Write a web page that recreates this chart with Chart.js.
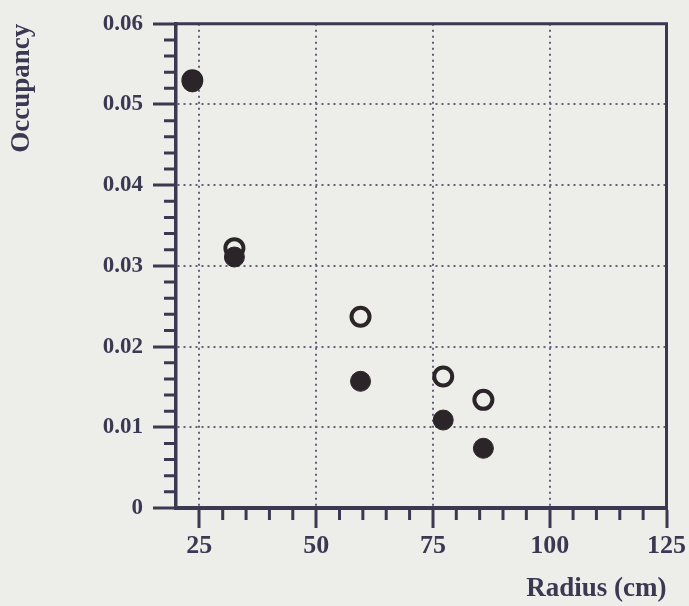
<!DOCTYPE html>
<html lang="en">
<head>
    <meta charset="UTF-8">
    <title>Occupancy vs Radius</title>
    <script src="https://cdn.jsdelivr.net/npm/chart.js"></script>
    <style>
        html, body { margin: 0; padding: 0; background: #ededea; }
        #wrap { width: 689px; height: 606px; }
    </style>
</head>
<body>
<div id="wrap">
    <canvas id="myChart"></canvas>
</div>

<script>
    // radius (cm) of each measurement
    var v_radius = [23.5, 32.5, 59.5, 77.2, 85.8];
    // filled circles
    var v_filled = [0.0528, 0.0311, 0.0157, 0.0109, 0.0074];
    // open circles
    var v_open = [0.0530, 0.0322, 0.0237, 0.0163, 0.0134];

    // axis ticks
    var v_xTicks = [25, 50, 75, 100, 125];
    var v_xLabels = ["25", "50", "75", "100", "125"];
    var v_yTicks = [0, 0.01, 0.02, 0.03, 0.04, 0.05, 0.06];
    var v_yLabels = ["0", "0.01", "0.02", "0.03", "0.04", "0.05", "0.06"];

    var v_ink = "#3b3852";
    var v_dot = "#2b2428";
    var v_bg = "#ededea";

    // minor ticks: every 5 cm on x, every 0.002 on y
    var v_xMinor = [];
    for (var i = 30; i < 125; i += 5) {
        if (i % 25 != 0) v_xMinor.push(i);
    }
    var v_yMinor = [];
    for (var k = 1; k < 30; k++) {
        if (k % 5 != 0) v_yMinor.push(k * 0.002);
    }

    function f_pts(p_ys) {
        return v_radius.map(function (r, i) { return {x: r, y: p_ys[i]}; });
    }

    // small ticks and the top / right edges of the frame
    const framePlugin = {
        id: "frame",
        beforeDatasetsDraw(chart) {
            const ctx = chart.ctx;
            const a = chart.chartArea;
            const sx = chart.scales.x, sy = chart.scales.y;
            ctx.save();
            ctx.strokeStyle = v_ink;
            ctx.lineWidth = 3;
            ctx.beginPath();
            v_xMinor.forEach(function (v) {
                const px = sx.getPixelForValue(v);
                ctx.moveTo(px, a.bottom);
                ctx.lineTo(px, a.bottom + 12);
            });
            v_yMinor.forEach(function (v) {
                const py = sy.getPixelForValue(v);
                ctx.moveTo(a.left, py);
                ctx.lineTo(a.left - 12, py);
            });
            ctx.stroke();
            ctx.beginPath();
            ctx.moveTo(a.left - 1, a.top);
            ctx.lineTo(a.right, a.top);
            ctx.lineTo(a.right, a.bottom + 1);
            ctx.stroke();
            ctx.restore();
        }
    };

    const ctx = document.getElementById("myChart").getContext("2d");
    const myChart = new Chart(ctx, {
        type: "scatter",
        data: {
            datasets: [
                {
                    label: "filled",
                    data: f_pts(v_filled),
                    pointRadius: 10,
                    pointHoverRadius: 10,
                    pointBackgroundColor: v_dot,
                    pointBorderColor: v_dot,
                    pointBorderWidth: 1
                },
                {
                    label: "open",
                    data: f_pts(v_open),
                    pointRadius: 9,
                    pointHoverRadius: 9,
                    pointBackgroundColor: v_bg,
                    pointBorderColor: v_dot,
                    pointBorderWidth: 4
                }
            ]
        },
        options: {
            responsive: true,
            maintainAspectRatio: false,
            animation: false,
            layout: { padding: { left: 0, right: 22, top: 23, bottom: 0 } },
            plugins: {
                legend: { display: false },
                tooltip: { enabled: false }
            },
            scales: {
                x: {
                    type: "linear",
                    min: 20,
                    max: 125,
                    afterBuildTicks: function (scale) {
                        scale.ticks = v_xTicks.map(function (v) { return {value: v}; });
                    },
                    afterFit: function (scale) { scale.height = 98; },
                    ticks: {
                        callback: function (val, idx) { return v_xLabels[idx]; },
                        color: v_ink,
                        font: { family: "Liberation Serif", weight: "bold", size: 26 },
                        padding: 3,
                        maxRotation: 0
                    },
                    grid: {
                        color: "#63617a",
                        lineWidth: 2,
                        tickLength: 20,
                        tickColor: v_ink,
                        tickWidth: 3
                    },
                    border: { color: v_ink, width: 4, dash: [2, 4] },
                    title: {
                        display: true,
                        text: "Radius (cm)",
                        align: "end",
                        color: v_ink,
                        font: { family: "Liberation Serif", weight: "bold", size: 27 },
                        padding: { top: 0, bottom: 1 }
                    }
                },
                y: {
                    type: "linear",
                    min: 0,
                    max: 0.06,
                    afterBuildTicks: function (scale) {
                        scale.ticks = v_yTicks.map(function (v) { return {value: v}; });
                    },
                    afterFit: function (scale) { scale.width = 176; },
                    ticks: {
                        callback: function (val, idx) { return v_yLabels[idx]; },
                        color: v_ink,
                        font: { family: "Liberation Serif", weight: "bold", size: 23 },
                        padding: 10
                    },
                    grid: {
                        color: "#63617a",
                        lineWidth: 2,
                        tickLength: 23,
                        tickColor: v_ink,
                        tickWidth: 3
                    },
                    border: { color: v_ink, width: 3.5, dash: [2, 4] },
                    title: {
                        display: true,
                        text: "Occupancy",
                        align: "end",
                        color: v_ink,
                        font: { family: "Liberation Serif", weight: "bold", size: 27 },
                        padding: { top: 6, bottom: 0 }
                    }
                }
            }
        },
        plugins: [framePlugin]
    });
</script>
</body>
</html>
